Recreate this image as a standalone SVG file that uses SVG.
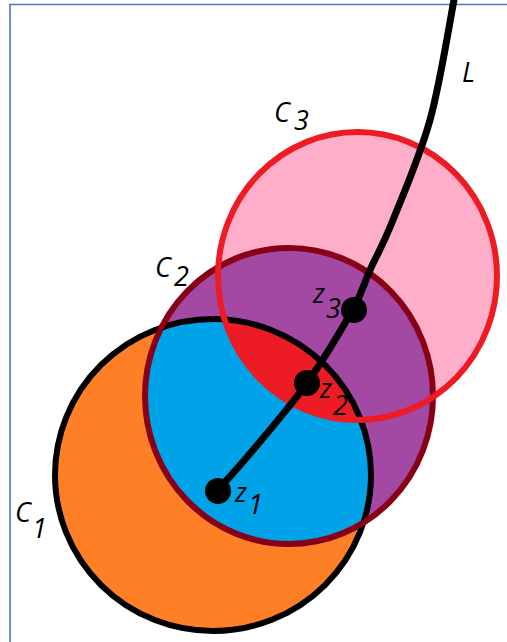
<svg xmlns="http://www.w3.org/2000/svg" width="507" height="642" viewBox="0 0 507 642">
  <style>
    .lbl { font-family: "Open Sans", "DejaVu Sans", sans-serif; font-style: italic; font-size: 27px; fill: #000; }
    .dot { fill: #000; }
  </style>
  <defs>
    <clipPath id="clipC1"><ellipse cx="213" cy="475" rx="158" ry="156"/></clipPath>
    <clipPath id="clipC2"><ellipse cx="289" cy="396" rx="144" ry="148"/></clipPath>
  </defs>
  <rect x="0" y="0" width="507" height="642" fill="#fff"/>
  <g id="frame" fill="none" stroke="#4a78c8" stroke-width="1.6">
    <path d="M10 642 V4.5 H507"/>
  </g>
  <g id="fills">
    <ellipse cx="357.5" cy="276" rx="139.5" ry="144" fill="#ffaec9"/>
    <ellipse cx="213" cy="475" rx="158" ry="156" fill="#ff7f27"/>
    <ellipse cx="289" cy="396" rx="144" ry="148" fill="#a349a4"/>
    <g clip-path="url(#clipC1)">
      <ellipse cx="289" cy="396" rx="144" ry="148" fill="#00a2e8"/>
      <ellipse cx="357.5" cy="276" rx="139.5" ry="144" fill="#ed1c24" clip-path="url(#clipC2)"/>
    </g>
  </g>
  <g id="c1">
    <ellipse cx="213" cy="475" rx="158" ry="156" fill="none" stroke="#000" stroke-width="6"/>
    <text class="lbl"><tspan x="15" y="522">C</tspan><tspan x="32" y="538">1</tspan></text>
  </g>
  <g id="c2">
    <ellipse cx="289" cy="396" rx="144" ry="148" fill="none" stroke="#880015" stroke-width="6"/>
    <text class="lbl"><tspan x="155" y="277">C</tspan><tspan x="174" y="286">2</tspan></text>
  </g>
  <g id="c3">
    <ellipse cx="357.5" cy="276" rx="139.5" ry="144" fill="none" stroke="#ed1c24" stroke-width="6"/>
    <text class="lbl"><tspan x="274" y="122">C</tspan><tspan x="294" y="130">3</tspan></text>
  </g>
  <g id="connectors">
    <path id="L" d="M454 0 C450 20 440.2 83.3 430 120 C419.8 156.7 403 195 393 220 C383 245 376.7 255.2 370 270 C363.3 284.8 363.5 290.2 353 309 C342.5 327.8 323.7 359.5 307 383 C290.3 406.5 268 432 253 450 C238 468 223 484.2 217 491" fill="none" stroke="#000" stroke-width="7" stroke-linecap="round"/>
    <text class="lbl" x="462" y="82">L</text>
  </g>
  <g id="z1">
    <circle class="dot" cx="218" cy="491" r="13"/>
    <text class="lbl"><tspan x="235" y="502">z</tspan><tspan x="248" y="514">1</tspan></text>
  </g>
  <g id="z2">
    <circle class="dot" cx="307" cy="383" r="13"/>
    <text class="lbl"><tspan x="320" y="398">z</tspan><tspan x="333" y="415">2</tspan></text>
  </g>
  <g id="z3">
    <circle class="dot" cx="354" cy="310" r="13"/>
    <text class="lbl"><tspan x="313" y="303">z</tspan><tspan x="326" y="318">3</tspan></text>
  </g>
</svg>
